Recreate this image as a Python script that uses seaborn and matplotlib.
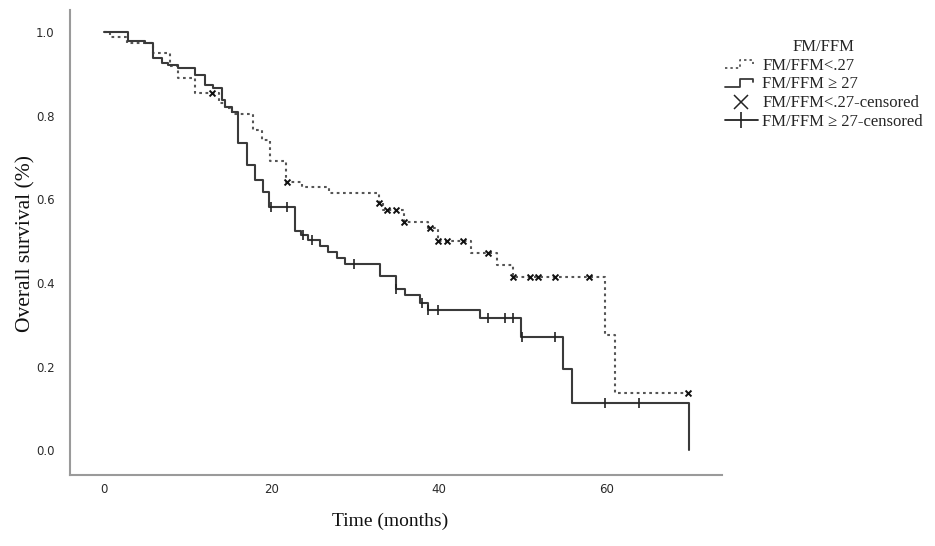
import numpy as np
import pandas as pd
import matplotlib
matplotlib.use('Agg')
import matplotlib.pyplot as plt
import seaborn as sns
from matplotlib.lines import Line2D
from matplotlib.legend_handler import HandlerBase

# Kaplan-Meier steps (time in months, survival after the step)
time_lt27 = [0, 0.8, 2.8, 5.9, 7.9, 8.9, 10.9, 13.8, 14.5, 15.3, 17.85, 18.85, 19.8,
             21.8, 23.6, 26.9, 32.8, 33.3, 35.8, 38.7, 39.8, 43.8, 46.85, 48.8,
             59.8, 60.9, 69.7]
surv_lt27 = [1.0, 0.988, 0.975, 0.95, 0.918, 0.89, 0.855, 0.83, 0.818, 0.804, 0.767,
             0.743, 0.691, 0.643, 0.63, 0.616, 0.591, 0.575, 0.547, 0.532, 0.5,
             0.473, 0.444, 0.415, 0.276, 0.137, 0.137]
cens_lt27 = [12.9, 21.9, 32.8, 33.8, 34.85, 35.8, 38.9, 39.8, 40.9, 42.8, 45.85,
             48.8, 50.8, 51.8, 53.8, 57.8, 69.7]

time_ge27 = [0, 2.94, 4.93, 5.92, 6.92, 7.71, 8.9, 10.89, 12.09, 13.07, 14.08, 14.47,
             15.27, 16.0, 17.06, 18.05, 19.03, 19.75, 22.85, 23.5, 24.4, 25.8, 26.8,
             27.8, 28.8, 32.9, 34.9, 35.9, 37.7, 38.7, 44.9, 49.8, 54.8, 55.8, 69.8]
surv_ge27 = [1.0, 0.98, 0.974, 0.938, 0.926, 0.922, 0.914, 0.898, 0.874, 0.867, 0.838,
             0.822, 0.81, 0.735, 0.683, 0.646, 0.619, 0.583, 0.525, 0.516, 0.504,
             0.49, 0.475, 0.46, 0.445, 0.416, 0.386, 0.371, 0.352, 0.336, 0.316,
             0.271, 0.194, 0.114, 0.0]
cens_ge27 = [19.95, 21.9, 23.8, 24.8, 29.9, 34.9, 37.9, 38.7, 39.8, 45.85, 47.8,
             48.8, 49.85, 53.8, 59.8, 63.85]

group_labels = ['FM/FFM<.27', 'FM/FFM \u2265 27']
cens_labels = ['FM/FFM<.27-censored', 'FM/FFM \u2265 27-censored']
y_ticks = [0.0, 0.2, 0.4, 0.6, 0.8, 1.0]
x_ticks = [0, 20, 40, 60]


def surv_at(times, surv, t):
    idx = np.searchsorted(times, t, side='right') - 1
    return np.asarray(surv)[idx]


df_lt = pd.DataFrame({'time': time_lt27, 'surv': surv_lt27})
df_ge = pd.DataFrame({'time': time_ge27, 'surv': surv_ge27})
cdf_lt = pd.DataFrame({'time': cens_lt27, 'surv': surv_at(time_lt27, surv_lt27, cens_lt27)})
cdf_ge = pd.DataFrame({'time': cens_ge27, 'surv': surv_at(time_ge27, surv_ge27, cens_ge27)})

sns.set_style('white')
serif = 'Liberation Serif'

fig = plt.figure(figsize=(9.35, 5.46), dpi=100)
ax = fig.add_axes([70 / 935, 1 - 475 / 546, (722 - 70) / 935, (475 - 10) / 546])

dot_ls = (0, (1.3, 1.7))
sns.lineplot(data=df_lt, x='time', y='surv', ax=ax, drawstyle='steps-post',
             color='#555555', linestyle=dot_ls, linewidth=1.5, estimator=None, sort=False)
sns.lineplot(data=df_ge, x='time', y='surv', ax=ax, drawstyle='steps-post',
             color='#3a3a3a', linewidth=1.5, estimator=None, sort=False)
sns.scatterplot(data=cdf_lt, x='time', y='surv', ax=ax, marker='x', s=18,
                color='#111111', linewidth=1.4, zorder=3)
sns.scatterplot(data=cdf_ge, x='time', y='surv', ax=ax, marker='|', s=55,
                color='#222222', linewidth=1.2, zorder=3)

ax.set_xlim(-4.0, 73.7)
ax.set_ylim(-0.0586, 1.053)
ax.set_xticks(x_ticks)
ax.set_xticklabels([str(v) for v in x_ticks])
ax.set_yticks(y_ticks)
ax.set_yticklabels([f'{v:.1f}' for v in y_ticks])
ax.tick_params(length=0)
ax.tick_params(axis='y', pad=11)
ax.tick_params(axis='x', pad=6)
for lab in ax.get_xticklabels() + ax.get_yticklabels():
    lab.set_fontsize(8.5)
    lab.set_color('#2a2a2a')
ax.set_xlabel('')
ax.set_ylabel('')
for side in ['top', 'right']:
    ax.spines[side].set_visible(False)
for side in ['left', 'bottom']:
    ax.spines[side].set_color('#9a9a9a')
    ax.spines[side].set_linewidth(1.5)

fig.text(390 / 935, 1 - 521 / 546, 'Time (months)', ha='center', va='center',
         family=serif, fontsize=14, color='#111111')
fig.text(26 / 935, 1 - 243 / 546, 'Overall survival (%)', ha='center', va='center',
         rotation=90, family=serif, fontsize=15.5, color='#111111')


class StepHandler(HandlerBase):
    def create_artists(self, legend, orig_handle, xdescent, ydescent, width, height,
                       fontsize, trans):
        x0, y0 = -xdescent, -ydescent
        xs = [x0, x0 + 0.45 * width, x0 + 0.45 * width, x0 + 0.85 * width, x0 + 0.85 * width]
        ys = [y0 + 0.1 * height, y0 + 0.1 * height, y0 + 0.85 * height,
              y0 + 0.85 * height, y0 + 0.5 * height]
        line = Line2D(xs, ys)
        line.update_from(orig_handle)
        line.set_transform(trans)
        return [line]


h_lt = Line2D([], [], color='#555555', linestyle=dot_ls, linewidth=1.3)
h_ge = Line2D([], [], color='#3a3a3a', linewidth=1.3)
h_clt = Line2D([], [], color='#222222', linestyle='none', marker='x', markersize=10,
               markeredgewidth=1.1)
h_cge = Line2D([], [], color='#222222', linewidth=1.3, marker='|', markersize=12,
               markeredgewidth=1.2)
fig.legend([h_lt, h_ge, h_clt, h_cge], group_labels + cens_labels, title='FM/FFM',
           loc='upper left', bbox_to_anchor=(713 / 935, 1 - 27 / 546), frameon=False,
           handlelength=2.0, handleheight=0.6, handletextpad=0.25, labelspacing=0.17,
           borderaxespad=0.3,
           prop={'family': serif, 'size': 12},
           title_fontproperties={'family': serif, 'size': 12},
           handler_map={h_lt: StepHandler(), h_ge: StepHandler()})

fig.savefig('out.png', dpi=100)
